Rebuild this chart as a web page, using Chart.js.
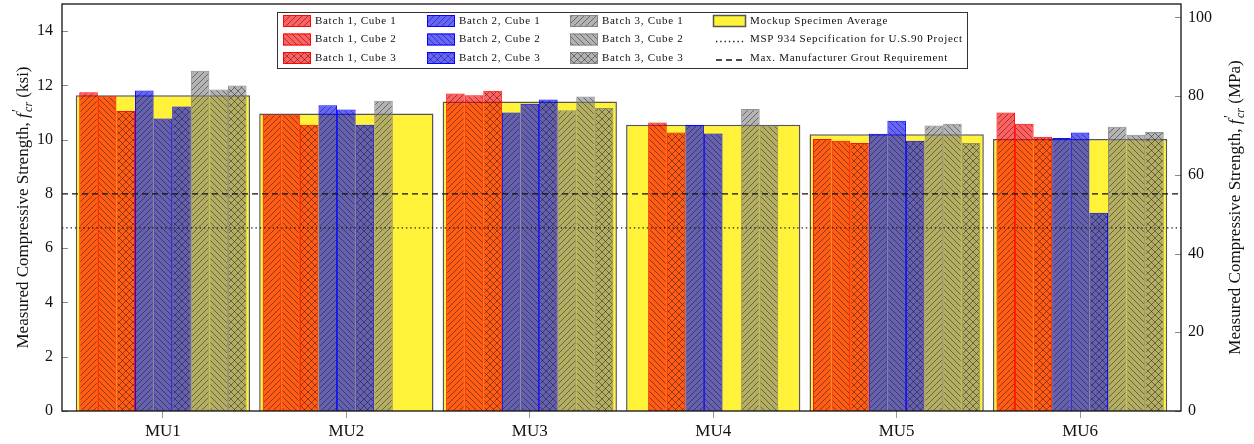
<!DOCTYPE html>
<html>
<head>
<meta charset="utf-8">
<script src="https://cdn.jsdelivr.net/npm/chart.js@4.4.1/dist/chart.umd.min.js"></script>
<style>
  html, body { margin: 0; padding: 0; background: #fff; }
</style>
</head>
<body>
<canvas id="strengthChart" width="1254" height="444"></canvas>
<script>
// mockup units on the x axis
const units = ['MU1', 'MU2', 'MU3', 'MU4', 'MU5', 'MU6'];

// measured cube strengths (ksi), null = no cube
const b1c1 = [11.75, 10.93, 11.70, null, 10.02, 11.00];
const b1c2 = [11.60, 10.93, 11.64, 10.63, 9.96, 10.59];
const b1c3 = [11.06, 10.55, 11.80, 10.26, 9.88, 10.11];
const b2c1 = [11.81, 11.27, 11.00, 10.54, 10.22, 10.06];
const b2c2 = [10.78, 11.11, 11.32, 10.23, 10.70, 10.26];
const b2c3 = [11.22, 10.55, 11.48, null, 9.96, 7.31];
const b3c1 = [12.54, 11.43, 11.08, 11.13, 10.52, 10.48];
const b3c2 = [11.85, null, 11.59, 10.52, 10.59, 10.18];
const b3c3 = [12.00, null, 11.17, null, 9.88, 10.28];
const mockupAvg = [11.64, 10.96, 11.41, 10.55, 10.20, 10.02];

const mspSpec = 6.75;   // ksi
const groutReq = 8;     // ksi

const ksiTicks = [0, 2, 4, 6, 8, 10, 12, 14];
const mpaTicks = [0, 20, 40, 60, 80, 100];

const legendNames = [
  'Batch 1, Cube 1', 'Batch 1, Cube 2', 'Batch 1, Cube 3',
  'Batch 2, Cube 1', 'Batch 2, Cube 2', 'Batch 2, Cube 3',
  'Batch 3, Cube 1', 'Batch 3, Cube 2', 'Batch 3, Cube 3',
  'Mockup Specimen Average',
  'MSP 934 Sepcification for U.S.90 Project',
  'Max. Manufacturer Grout Requirement'
];

const KSI_TO_MPA = 6.89476;
const xMin = 0.45, xMax = 6.55, yMax = 15;
const serif = '"Liberation Serif", "DejaVu Serif", serif';

const batchFill = ['rgba(255,0,0,0.62)', 'rgba(0,0,255,0.6)', 'rgba(128,128,128,0.6)'];
const batchEdge = ['rgba(255,0,0,0.95)', 'rgba(0,0,255,0.95)', 'rgba(128,128,128,0.85)'];
const hatchKind = ['ne', 'nw', 'cross'];

function makePattern(color, kind)
{
  const s = kind === 'cross' ? 7 : 6;
  const c = document.createElement('canvas');
  c.width = s; c.height = s;
  const g = c.getContext('2d');
  g.fillStyle = color;
  g.fillRect(0, 0, s, s);
  g.strokeStyle = 'rgba(0,0,0,0.6)';
  g.lineWidth = 0.7;
  g.beginPath();
  if (kind === 'ne' || kind === 'cross') {
    g.moveTo(-1, s + 1); g.lineTo(s + 1, -1);
    g.moveTo(-1, 1); g.lineTo(1, -1);
    g.moveTo(s - 1, s + 1); g.lineTo(s + 1, s - 1);
  }
  if (kind === 'nw' || kind === 'cross') {
    g.moveTo(-1, -1); g.lineTo(s + 1, s + 1);
    g.moveTo(s - 1, -1); g.lineTo(s + 1, 1);
    g.moveTo(-1, s - 1); g.lineTo(1, s + 1);
  }
  g.stroke();
  return g.createPattern(c, 'repeat');
}

const cubeSeries = [b1c1, b1c2, b1c3, b2c1, b2c2, b2c3, b3c1, b3c2, b3c3];

const cubeDatasets = cubeSeries.map((vals, k) => ({
  type: 'bar',
  label: legendNames[k],
  data: vals.map((v, i) => ({ x: i + 1, y: v })).filter(p => p.y !== null),
  backgroundColor: makePattern(batchFill[Math.floor(k / 3)], hatchKind[k % 3]),
  borderColor: batchEdge[Math.floor(k / 3)],
  borderWidth: 1,
  categoryPercentage: 0.912,
  barPercentage: 1,
  order: 1,
  yAxisID: 'y'
}));

const avgDataset = {
  type: 'bar',
  label: legendNames[9],
  data: mockupAvg.map((v, i) => ({ x: i + 1, y: v })),
  backgroundColor: 'rgb(255,242,56)',
  borderColor: '#555',
  borderWidth: 1.5,
  grouped: false,
  categoryPercentage: 0.95,
  barPercentage: 1,
  order: 2,
  yAxisID: 'y'
};

const specLine = {
  type: 'line',
  label: legendNames[10],
  data: [{ x: xMin, y: mspSpec }, { x: xMax, y: mspSpec }],
  borderColor: '#111',
  borderWidth: 1.3,
  borderDash: [1.3, 3],
  pointRadius: 0,
  order: 0,
  yAxisID: 'y'
};

const groutLine = {
  type: 'line',
  label: legendNames[11],
  data: [{ x: xMin, y: groutReq }, { x: xMax, y: groutReq }],
  borderColor: '#111',
  borderWidth: 1.3,
  borderDash: [6, 4],
  pointRadius: 0,
  order: 0,
  yAxisID: 'y'
};

function drawAxisTitle(ctx, x, y, unit)
{
  const big = '17px ' + serif;
  const small = '12px ' + serif;
  const segs = [
    { text: 'Measured Compressive Strength, ', font: big, dy: 0, adv: true },
    { text: 'f', font: 'italic ' + big, dy: 0, adv: true, extra: 1.5 },
    { text: '\u2032', font: '14px ' + serif, dy: -6, adv: false },
    { text: 'cr', font: 'italic ' + small, dy: 4, adv: true },
    { text: ' (' + unit + ')', font: big, dy: 0, adv: true }
  ];
  ctx.save();
  ctx.translate(x, y);
  ctx.rotate(-Math.PI / 2);
  ctx.textBaseline = 'alphabetic';
  ctx.textAlign = 'left';
  ctx.fillStyle = '#111';
  let total = 0;
  segs.forEach(s => {
    ctx.font = s.font;
    s.w = ctx.measureText(s.text).width + (s.extra || 0);
    if (s.adv) total += s.w;
  });
  let cx = -total / 2;
  segs.forEach(s => {
    ctx.font = s.font;
    ctx.fillText(s.text, cx, s.dy);
    if (s.adv) cx += s.w;
  });
  ctx.restore();
}

const decorPlugin = {
  id: 'decor',
  afterDraw(chart) {
    const ctx = chart.ctx;
    const area = chart.chartArea;
    const yL = chart.scales.y, yR = chart.scales.y2;
    ctx.save();

    // small ticks inside the frame
    ctx.strokeStyle = '#8a8a8a';
    ctx.lineWidth = 1;
    ctx.beginPath();
    ksiTicks.forEach(t => {
      const py = Math.round(yL.getPixelForValue(t)) + 0.5;
      ctx.moveTo(area.left, py); ctx.lineTo(area.left + 6, py);
    });
    mpaTicks.forEach(t => {
      const py = Math.round(yR.getPixelForValue(t)) + 0.5;
      ctx.moveTo(area.right - 6, py); ctx.lineTo(area.right, py);
    });
    ctx.stroke();

    // frame
    ctx.strokeStyle = '#111';
    ctx.lineWidth = 1.3;
    ctx.strokeRect(area.left, area.top, area.right - area.left, area.bottom - area.top);

    const midY = (area.top + area.bottom) / 2;
    drawAxisTitle(ctx, 28, midY, 'ksi');
    drawAxisTitle(ctx, 1240, midY, 'MPa');

    // legend box
    const lx = 277, ly = 12, lw = 690, lh = 56;
    ctx.fillStyle = '#fff';
    ctx.fillRect(lx, ly, lw, lh);
    ctx.strokeStyle = '#333';
    ctx.lineWidth = 1;
    ctx.strokeRect(lx + 0.5, ly + 0.5, lw, lh);

    const colX = [283, 427, 570, 713];
    const rowY = [21, 39.5, 58];
    ctx.font = '11px ' + serif;
    if ('letterSpacing' in ctx) ctx.letterSpacing = '0.7px';
    ctx.textBaseline = 'middle';
    ctx.textAlign = 'left';
    const ds = chart.data.datasets;
    for (let k = 0; k < 9; k++) {
      const x = colX[Math.floor(k / 3)], y = rowY[k % 3];
      ctx.fillStyle = ds[k].backgroundColor;
      ctx.fillRect(x, y - 6, 28, 12);
      ctx.strokeStyle = ds[k].borderColor;
      ctx.strokeRect(x + 0.5, y - 5.5, 27, 11);
      ctx.fillStyle = '#111';
      ctx.fillText(legendNames[k], x + 32, y);
    }
    const x4 = colX[3];
    ctx.fillStyle = ds[9].backgroundColor;
    ctx.fillRect(x4, rowY[0] - 6, 33, 12);
    ctx.strokeStyle = ds[9].borderColor;
    ctx.lineWidth = 1.5;
    ctx.strokeRect(x4 + 0.5, rowY[0] - 5.5, 32, 11);
    ctx.fillStyle = '#111';
    ctx.fillText(legendNames[9], x4 + 37, rowY[0]);

    [10, 11].forEach((k, j) => {
      const y = rowY[j + 1];
      ctx.strokeStyle = ds[k].borderColor;
      ctx.lineWidth = ds[k].borderWidth;
      ctx.setLineDash(ds[k].borderDash);
      ctx.beginPath();
      ctx.moveTo(x4 + 3, y + 2); ctx.lineTo(x4 + 33, y + 2);
      ctx.stroke();
      ctx.setLineDash([]);
      ctx.fillStyle = '#111';
      ctx.fillText(legendNames[k], x4 + 37, y);
    });

    ctx.restore();
  }
};

Chart.defaults.font.family = serif;
Chart.defaults.color = '#111';

new Chart(document.getElementById('strengthChart'), {
  type: 'bar',
  data: {
    datasets: [...cubeDatasets, avgDataset, specLine, groutLine]
  },
  options: {
    responsive: false,
    animation: false,
    layout: { padding: { top: 4, left: 0, right: 0, bottom: 0 } },
    plugins: {
      legend: { display: false },
      tooltip: { enabled: false }
    },
    scales: {
      x: {
        type: 'linear',
        min: xMin,
        max: xMax,
        offset: false,
        bounds: 'data',
        afterBuildTicks: s => { s.ticks = units.map((u, i) => ({ value: i + 1 })); },
        afterFit: s => { s.height = 33; s.paddingLeft = 0; s.paddingRight = 0; },
        ticks: {
          callback: v => units[Math.round(v) - 1],
          font: { size: 17 },
          padding: 3,
          maxRotation: 0
        },
        grid: { display: true, drawOnChartArea: false, offset: false, tickLength: 7, color: '#999' },
        border: { display: false }
      },
      y: {
        position: 'left',
        min: 0,
        max: yMax,
        afterBuildTicks: s => { s.ticks = ksiTicks.map(v => ({ value: v })); },
        afterFit: s => { s.width = 62; s.paddingTop = 0; s.paddingBottom = 0; },
        ticks: { font: { size: 16 }, padding: 9 },
        grid: { display: false, drawTicks: false },
        border: { display: false }
      },
      y2: {
        position: 'right',
        min: 0,
        max: yMax * KSI_TO_MPA,
        afterBuildTicks: s => { s.ticks = mpaTicks.map(v => ({ value: v })); },
        afterFit: s => { s.width = 73; s.paddingTop = 0; s.paddingBottom = 0; },
        ticks: { font: { size: 16 }, padding: 7 },
        grid: { display: false, drawTicks: false },
        border: { display: false }
      }
    }
  },
  plugins: [decorPlugin]
});
</script>
</body>
</html>
